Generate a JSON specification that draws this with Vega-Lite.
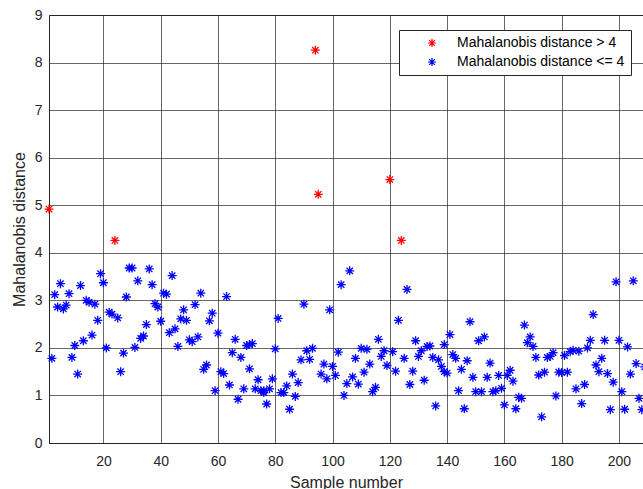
{
"$schema": "https://vega.github.io/schema/vega-lite/v6.json",
"width": 594, "height": 428,
"autosize": {"type": "none"},
"padding": {"left": 49, "top": 15, "right": 0, "bottom": 46},
"background": "white",
"config": {
 "font": "Liberation Sans",
 "view": {"stroke": "#262626", "strokeWidth": 1},
 "axis": {"labelFont": "Liberation Sans", "labelFontSize": 14, "labelColor": "#262626", "titleFont": "Liberation Sans", "titleFontSize": 16, "titleFontWeight": "normal", "titleColor": "#262626", "gridColor": "#262626", "gridOpacity": 0.7, "domainColor": "#262626", "tickSize": 0}
},
"data": {"values": [
{"sample":1,"distance":4.92,"group":"> 4"},
{"sample":2,"distance":1.78,"group":"<= 4"},
{"sample":3,"distance":3.12,"group":"<= 4"},
{"sample":4,"distance":2.86,"group":"<= 4"},
{"sample":5,"distance":3.35,"group":"<= 4"},
{"sample":6,"distance":2.82,"group":"<= 4"},
{"sample":7,"distance":2.90,"group":"<= 4"},
{"sample":8,"distance":3.14,"group":"<= 4"},
{"sample":9,"distance":1.80,"group":"<= 4"},
{"sample":10,"distance":2.05,"group":"<= 4"},
{"sample":11,"distance":1.45,"group":"<= 4"},
{"sample":12,"distance":3.31,"group":"<= 4"},
{"sample":13,"distance":2.15,"group":"<= 4"},
{"sample":14,"distance":3.00,"group":"<= 4"},
{"sample":15,"distance":2.96,"group":"<= 4"},
{"sample":16,"distance":2.27,"group":"<= 4"},
{"sample":17,"distance":2.92,"group":"<= 4"},
{"sample":18,"distance":2.58,"group":"<= 4"},
{"sample":19,"distance":3.56,"group":"<= 4"},
{"sample":20,"distance":3.37,"group":"<= 4"},
{"sample":21,"distance":2.00,"group":"<= 4"},
{"sample":22,"distance":2.75,"group":"<= 4"},
{"sample":23,"distance":2.71,"group":"<= 4"},
{"sample":24,"distance":4.26,"group":"> 4"},
{"sample":25,"distance":2.63,"group":"<= 4"},
{"sample":26,"distance":1.50,"group":"<= 4"},
{"sample":27,"distance":1.89,"group":"<= 4"},
{"sample":28,"distance":3.07,"group":"<= 4"},
{"sample":29,"distance":3.68,"group":"<= 4"},
{"sample":30,"distance":3.68,"group":"<= 4"},
{"sample":31,"distance":2.01,"group":"<= 4"},
{"sample":32,"distance":3.41,"group":"<= 4"},
{"sample":33,"distance":2.20,"group":"<= 4"},
{"sample":34,"distance":2.25,"group":"<= 4"},
{"sample":35,"distance":2.49,"group":"<= 4"},
{"sample":36,"distance":3.66,"group":"<= 4"},
{"sample":37,"distance":3.33,"group":"<= 4"},
{"sample":38,"distance":2.93,"group":"<= 4"},
{"sample":39,"distance":2.86,"group":"<= 4"},
{"sample":40,"distance":2.56,"group":"<= 4"},
{"sample":41,"distance":3.15,"group":"<= 4"},
{"sample":42,"distance":3.13,"group":"<= 4"},
{"sample":43,"distance":2.32,"group":"<= 4"},
{"sample":44,"distance":3.52,"group":"<= 4"},
{"sample":45,"distance":2.40,"group":"<= 4"},
{"sample":46,"distance":2.03,"group":"<= 4"},
{"sample":47,"distance":2.61,"group":"<= 4"},
{"sample":48,"distance":2.80,"group":"<= 4"},
{"sample":49,"distance":2.58,"group":"<= 4"},
{"sample":50,"distance":2.17,"group":"<= 4"},
{"sample":51,"distance":2.13,"group":"<= 4"},
{"sample":52,"distance":2.91,"group":"<= 4"},
{"sample":53,"distance":2.23,"group":"<= 4"},
{"sample":54,"distance":3.15,"group":"<= 4"},
{"sample":55,"distance":1.55,"group":"<= 4"},
{"sample":56,"distance":1.64,"group":"<= 4"},
{"sample":57,"distance":2.57,"group":"<= 4"},
{"sample":58,"distance":2.73,"group":"<= 4"},
{"sample":59,"distance":1.10,"group":"<= 4"},
{"sample":60,"distance":2.31,"group":"<= 4"},
{"sample":61,"distance":1.50,"group":"<= 4"},
{"sample":62,"distance":1.46,"group":"<= 4"},
{"sample":63,"distance":3.08,"group":"<= 4"},
{"sample":64,"distance":1.22,"group":"<= 4"},
{"sample":65,"distance":1.90,"group":"<= 4"},
{"sample":66,"distance":2.18,"group":"<= 4"},
{"sample":67,"distance":0.92,"group":"<= 4"},
{"sample":68,"distance":1.80,"group":"<= 4"},
{"sample":69,"distance":1.14,"group":"<= 4"},
{"sample":70,"distance":2.05,"group":"<= 4"},
{"sample":71,"distance":2.07,"group":"<= 4"},
{"sample":71,"distance":1.56,"group":"<= 4"},
{"sample":72,"distance":2.09,"group":"<= 4"},
{"sample":73,"distance":1.14,"group":"<= 4"},
{"sample":74,"distance":1.33,"group":"<= 4"},
{"sample":75,"distance":1.10,"group":"<= 4"},
{"sample":76,"distance":1.06,"group":"<= 4"},
{"sample":76,"distance":1.10,"group":"<= 4"},
{"sample":77,"distance":0.82,"group":"<= 4"},
{"sample":78,"distance":1.14,"group":"<= 4"},
{"sample":79,"distance":1.35,"group":"<= 4"},
{"sample":80,"distance":1.98,"group":"<= 4"},
{"sample":81,"distance":2.62,"group":"<= 4"},
{"sample":82,"distance":1.06,"group":"<= 4"},
{"sample":83,"distance":1.06,"group":"<= 4"},
{"sample":84,"distance":1.20,"group":"<= 4"},
{"sample":85,"distance":0.71,"group":"<= 4"},
{"sample":86,"distance":1.45,"group":"<= 4"},
{"sample":87,"distance":0.98,"group":"<= 4"},
{"sample":88,"distance":1.27,"group":"<= 4"},
{"sample":89,"distance":1.75,"group":"<= 4"},
{"sample":90,"distance":2.92,"group":"<= 4"},
{"sample":91,"distance":1.94,"group":"<= 4"},
{"sample":92,"distance":1.76,"group":"<= 4"},
{"sample":93,"distance":1.99,"group":"<= 4"},
{"sample":94,"distance":8.26,"group":"> 4"},
{"sample":95,"distance":5.23,"group":"> 4"},
{"sample":96,"distance":1.45,"group":"<= 4"},
{"sample":97,"distance":1.66,"group":"<= 4"},
{"sample":98,"distance":1.35,"group":"<= 4"},
{"sample":99,"distance":2.80,"group":"<= 4"},
{"sample":100,"distance":1.61,"group":"<= 4"},
{"sample":101,"distance":1.42,"group":"<= 4"},
{"sample":102,"distance":1.91,"group":"<= 4"},
{"sample":103,"distance":3.33,"group":"<= 4"},
{"sample":104,"distance":1.00,"group":"<= 4"},
{"sample":105,"distance":1.25,"group":"<= 4"},
{"sample":106,"distance":3.62,"group":"<= 4"},
{"sample":107,"distance":1.39,"group":"<= 4"},
{"sample":108,"distance":1.78,"group":"<= 4"},
{"sample":109,"distance":1.24,"group":"<= 4"},
{"sample":110,"distance":1.99,"group":"<= 4"},
{"sample":111,"distance":1.49,"group":"<= 4"},
{"sample":112,"distance":1.97,"group":"<= 4"},
{"sample":113,"distance":1.66,"group":"<= 4"},
{"sample":114,"distance":1.08,"group":"<= 4"},
{"sample":115,"distance":1.17,"group":"<= 4"},
{"sample":116,"distance":2.18,"group":"<= 4"},
{"sample":117,"distance":1.82,"group":"<= 4"},
{"sample":118,"distance":1.94,"group":"<= 4"},
{"sample":119,"distance":1.63,"group":"<= 4"},
{"sample":120,"distance":5.54,"group":"> 4"},
{"sample":121,"distance":1.92,"group":"<= 4"},
{"sample":122,"distance":1.51,"group":"<= 4"},
{"sample":123,"distance":2.58,"group":"<= 4"},
{"sample":124,"distance":4.26,"group":"> 4"},
{"sample":125,"distance":1.78,"group":"<= 4"},
{"sample":126,"distance":3.23,"group":"<= 4"},
{"sample":127,"distance":1.23,"group":"<= 4"},
{"sample":128,"distance":1.51,"group":"<= 4"},
{"sample":129,"distance":2.15,"group":"<= 4"},
{"sample":130,"distance":1.82,"group":"<= 4"},
{"sample":131,"distance":1.94,"group":"<= 4"},
{"sample":132,"distance":1.32,"group":"<= 4"},
{"sample":133,"distance":2.03,"group":"<= 4"},
{"sample":134,"distance":2.04,"group":"<= 4"},
{"sample":135,"distance":1.80,"group":"<= 4"},
{"sample":136,"distance":0.78,"group":"<= 4"},
{"sample":137,"distance":1.75,"group":"<= 4"},
{"sample":138,"distance":1.61,"group":"<= 4"},
{"sample":139,"distance":1.50,"group":"<= 4"},
{"sample":139,"distance":2.07,"group":"<= 4"},
{"sample":140,"distance":1.47,"group":"<= 4"},
{"sample":141,"distance":2.28,"group":"<= 4"},
{"sample":142,"distance":1.86,"group":"<= 4"},
{"sample":143,"distance":1.78,"group":"<= 4"},
{"sample":144,"distance":1.10,"group":"<= 4"},
{"sample":145,"distance":1.55,"group":"<= 4"},
{"sample":146,"distance":0.72,"group":"<= 4"},
{"sample":147,"distance":1.73,"group":"<= 4"},
{"sample":148,"distance":2.55,"group":"<= 4"},
{"sample":149,"distance":1.38,"group":"<= 4"},
{"sample":150,"distance":1.08,"group":"<= 4"},
{"sample":151,"distance":2.15,"group":"<= 4"},
{"sample":152,"distance":1.08,"group":"<= 4"},
{"sample":153,"distance":2.23,"group":"<= 4"},
{"sample":154,"distance":1.38,"group":"<= 4"},
{"sample":155,"distance":1.68,"group":"<= 4"},
{"sample":156,"distance":1.08,"group":"<= 4"},
{"sample":157,"distance":1.10,"group":"<= 4"},
{"sample":158,"distance":1.42,"group":"<= 4"},
{"sample":159,"distance":1.15,"group":"<= 4"},
{"sample":160,"distance":0.80,"group":"<= 4"},
{"sample":161,"distance":1.42,"group":"<= 4"},
{"sample":162,"distance":1.53,"group":"<= 4"},
{"sample":163,"distance":1.30,"group":"<= 4"},
{"sample":164,"distance":0.72,"group":"<= 4"},
{"sample":165,"distance":0.96,"group":"<= 4"},
{"sample":166,"distance":0.94,"group":"<= 4"},
{"sample":167,"distance":2.48,"group":"<= 4"},
{"sample":168,"distance":2.11,"group":"<= 4"},
{"sample":169,"distance":2.23,"group":"<= 4"},
{"sample":170,"distance":2.03,"group":"<= 4"},
{"sample":171,"distance":1.80,"group":"<= 4"},
{"sample":172,"distance":1.43,"group":"<= 4"},
{"sample":173,"distance":0.55,"group":"<= 4"},
{"sample":174,"distance":1.49,"group":"<= 4"},
{"sample":175,"distance":1.80,"group":"<= 4"},
{"sample":176,"distance":1.82,"group":"<= 4"},
{"sample":177,"distance":1.90,"group":"<= 4"},
{"sample":178,"distance":0.99,"group":"<= 4"},
{"sample":179,"distance":1.49,"group":"<= 4"},
{"sample":180,"distance":1.48,"group":"<= 4"},
{"sample":181,"distance":1.84,"group":"<= 4"},
{"sample":182,"distance":1.49,"group":"<= 4"},
{"sample":183,"distance":1.92,"group":"<= 4"},
{"sample":184,"distance":1.95,"group":"<= 4"},
{"sample":185,"distance":1.14,"group":"<= 4"},
{"sample":186,"distance":1.93,"group":"<= 4"},
{"sample":187,"distance":0.83,"group":"<= 4"},
{"sample":188,"distance":1.23,"group":"<= 4"},
{"sample":189,"distance":2.00,"group":"<= 4"},
{"sample":190,"distance":2.16,"group":"<= 4"},
{"sample":191,"distance":2.70,"group":"<= 4"},
{"sample":192,"distance":1.64,"group":"<= 4"},
{"sample":193,"distance":1.50,"group":"<= 4"},
{"sample":194,"distance":1.78,"group":"<= 4"},
{"sample":195,"distance":2.16,"group":"<= 4"},
{"sample":196,"distance":1.46,"group":"<= 4"},
{"sample":197,"distance":0.70,"group":"<= 4"},
{"sample":198,"distance":1.28,"group":"<= 4"},
{"sample":199,"distance":3.39,"group":"<= 4"},
{"sample":200,"distance":2.16,"group":"<= 4"},
{"sample":201,"distance":1.08,"group":"<= 4"},
{"sample":202,"distance":0.71,"group":"<= 4"},
{"sample":203,"distance":2.02,"group":"<= 4"},
{"sample":204,"distance":1.45,"group":"<= 4"},
{"sample":205,"distance":3.41,"group":"<= 4"},
{"sample":206,"distance":1.67,"group":"<= 4"},
{"sample":207,"distance":0.94,"group":"<= 4"},
{"sample":208,"distance":0.70,"group":"<= 4"},
{"sample":209,"distance":1.60,"group":"<= 4"}
]},
"mark": {"type": "point", "shape": "M-1,0L1,0M0,-1L0,1M-0.7071,-0.7071L0.7071,0.7071M-0.7071,0.7071L0.7071,-0.7071", "filled": false, "size": 81, "strokeWidth": 1.3, "opacity": 1},
"encoding": {
 "x": {"field": "sample", "type": "quantitative", "scale": {"domain": [1, 208.4], "nice": false, "zero": false},
  "axis": {"values": [20,40,60,80,100,120,140,160,180,200], "format": "d", "title": "Sample number", "labelPadding": 11, "titlePadding": 6}},
 "y": {"field": "distance", "type": "quantitative", "scale": {"domain": [0, 9], "nice": false},
  "axis": {"values": [0,1,2,3,4,5,6,7,8,9], "format": "d", "title": "Mahalanobis distance", "labelPadding": 7, "titlePadding": 7}},
 "color": {"field": "group", "type": "nominal", "scale": {"domain": ["> 4", "<= 4"], "range": ["#ff0000", "#0000ff"]},
  "legend": {"title": null, "orient": "none", "legendX": 350, "legendY": 15, "padding": 6, "strokeColor": "#262626", "fillColor": "white", "cornerRadius": 0,
   "symbolType": "M-1,0L1,0M0,-1L0,1M-0.7071,-0.7071L0.7071,0.7071M-0.7071,0.7071L0.7071,-0.7071", "symbolSize": 64, "symbolStrokeWidth": 1.2, "symbolOffset": 20, "labelOffset": 18,
   "labelFont": "Liberation Sans", "labelFontSize": 14, "labelColor": "#000000", "labelLimit": 300, "rowPadding": 5,
   "labelExpr": "'Mahalanobis distance ' + datum.label"}}
}
}
